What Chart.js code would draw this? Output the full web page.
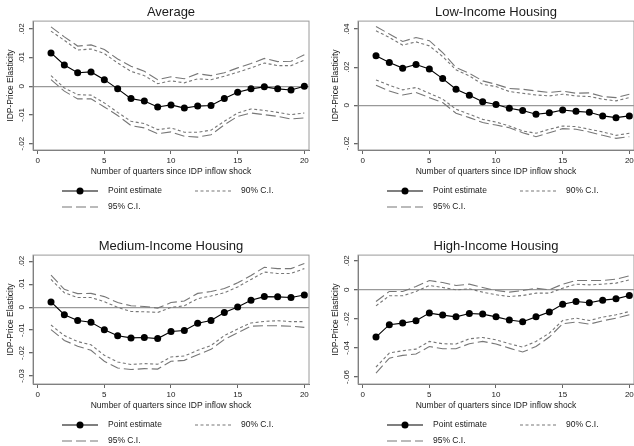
<!DOCTYPE html>
<html lang="en">
<head>
<meta charset="UTF-8">
<title>IDP-Price Elasticity</title>
<script src="https://cdn.jsdelivr.net/npm/chart.js"></script>
<style>
  html, body { margin: 0; padding: 0; background: #fff; }
  body { width: 634px; height: 446px; overflow: hidden; position: relative; }
  .panel { position: absolute; width: 317px; height: 223px; }
</style>
</head>
<body>
<div class="panel" style="left:0;top:0"><canvas id="avgChart"></canvas></div>
<div class="panel" style="left:325px;top:0"><canvas id="lowChart"></canvas></div>
<div class="panel" style="left:0;top:234px"><canvas id="medChart"></canvas></div>
<div class="panel" style="left:325px;top:234px"><canvas id="highChart"></canvas></div>

<script>
// quarters since shock
const quarters = [1, 2, 3, 4, 5, 6, 7, 8, 9, 10, 11, 12, 13, 14, 15, 16, 17, 18, 19, 20];
const xTicks = [0, 5, 10, 15, 20];

// Average
const avgPoint = [0.0116, 0.0074, 0.0047, 0.0050, 0.0023, -0.0009, -0.0043, -0.0051, -0.0072, -0.0065, -0.0076, -0.0069, -0.0067, -0.0043, -0.0021, -0.0009, -0.0002, -0.0009, -0.0013, 0.0000];
const avgUp95 = [0.0207, 0.0172, 0.0140, 0.0144, 0.0128, 0.0095, 0.0070, 0.0052, 0.0023, 0.0033, 0.0026, 0.0044, 0.0037, 0.0047, 0.0064, 0.0079, 0.0097, 0.0086, 0.0087, 0.0110];
const avgUp90 = [0.0192, 0.0160, 0.0126, 0.0130, 0.0114, 0.0081, 0.0052, 0.0037, 0.0009, 0.0019, 0.0012, 0.0026, 0.0023, 0.0035, 0.0049, 0.0064, 0.0081, 0.0072, 0.0072, 0.0091];
const avgLo90 = [0.0037, -0.0006, -0.0029, -0.0031, -0.0058, -0.0091, -0.0122, -0.0130, -0.0151, -0.0145, -0.0160, -0.0160, -0.0153, -0.0122, -0.0093, -0.0079, -0.0084, -0.0091, -0.0099, -0.0093];
const avgLo95 = [0.0023, -0.0017, -0.0044, -0.0044, -0.0072, -0.0102, -0.0137, -0.0145, -0.0165, -0.0159, -0.0174, -0.0177, -0.0169, -0.0134, -0.0105, -0.0093, -0.0099, -0.0105, -0.0114, -0.0110];
const avgYTicks = [-0.02, -0.01, 0, 0.01, 0.02];

// Low-income housing
const lowPoint = [0.0260, 0.0225, 0.0195, 0.0214, 0.0190, 0.0140, 0.0084, 0.0053, 0.0018, 0.0004, -0.0016, -0.0028, -0.0047, -0.0040, -0.0025, -0.0032, -0.0037, -0.0056, -0.0065, -0.0056];
const lowUp95 = [0.0414, 0.0374, 0.0335, 0.0356, 0.0339, 0.0277, 0.0198, 0.0168, 0.0128, 0.0110, 0.0088, 0.0084, 0.0075, 0.0067, 0.0074, 0.0063, 0.0065, 0.0046, 0.0040, 0.0058];
const lowUp90 = [0.0391, 0.0356, 0.0316, 0.0333, 0.0312, 0.0256, 0.0186, 0.0154, 0.0110, 0.0098, 0.0072, 0.0063, 0.0054, 0.0049, 0.0058, 0.0049, 0.0046, 0.0032, 0.0023, 0.0040];
const lowLo90 = [0.0133, 0.0105, 0.0081, 0.0093, 0.0063, 0.0032, -0.0021, -0.0047, -0.0074, -0.0088, -0.0109, -0.0135, -0.0147, -0.0126, -0.0109, -0.0112, -0.0126, -0.0140, -0.0158, -0.0147];
const lowLo95 = [0.0105, 0.0075, 0.0054, 0.0067, 0.0040, 0.0014, -0.0042, -0.0065, -0.0091, -0.0104, -0.0118, -0.0144, -0.0165, -0.0144, -0.0123, -0.0126, -0.0140, -0.0158, -0.0174, -0.0165];
const lowYTicks = [-0.02, 0, 0.02, 0.04];

// Medium-income housing
const medPoint = [0.0023, -0.0033, -0.0058, -0.0066, -0.0099, -0.0125, -0.0134, -0.0132, -0.0137, -0.0106, -0.0102, -0.0070, -0.0058, -0.0023, 0.0001, 0.0030, 0.0046, 0.0045, 0.0042, 0.0053];
const medUp95 = [0.0140, 0.0078, 0.0059, 0.0060, 0.0046, 0.0020, 0.0006, 0.0003, -0.0004, 0.0020, 0.0027, 0.0060, 0.0068, 0.0081, 0.0106, 0.0138, 0.0174, 0.0168, 0.0168, 0.0190];
const medUp90 = [0.0121, 0.0063, 0.0042, 0.0042, 0.0024, -0.0001, -0.0019, -0.0020, -0.0023, -0.0001, 0.0006, 0.0037, 0.0049, 0.0063, 0.0088, 0.0121, 0.0153, 0.0147, 0.0147, 0.0168];
const medLo90 = [-0.0078, -0.0124, -0.0150, -0.0164, -0.0210, -0.0239, -0.0250, -0.0246, -0.0249, -0.0217, -0.0213, -0.0188, -0.0167, -0.0124, -0.0095, -0.0069, -0.0062, -0.0059, -0.0063, -0.0063];
const medLo95 = [-0.0098, -0.0145, -0.0170, -0.0188, -0.0236, -0.0265, -0.0272, -0.0268, -0.0270, -0.0236, -0.0232, -0.0207, -0.0184, -0.0141, -0.0112, -0.0083, -0.0081, -0.0081, -0.0083, -0.0088];
const medYTicks = [-0.03, -0.02, -0.01, 0, 0.01, 0.02];

// High-income housing
const highPoint = [-0.0325, -0.0240, -0.0229, -0.0213, -0.0160, -0.0174, -0.0186, -0.0163, -0.0167, -0.0186, -0.0208, -0.0220, -0.0186, -0.0153, -0.0099, -0.0080, -0.0089, -0.0071, -0.0062, -0.0039];
const highUp95 = [-0.0080, -0.0011, -0.0011, 0.0023, 0.0064, 0.0050, 0.0030, 0.0039, 0.0016, -0.0005, -0.0016, -0.0005, 0.0011, 0.0000, 0.0039, 0.0064, 0.0064, 0.0064, 0.0073, 0.0096];
const highUp90 = [-0.0110, -0.0041, -0.0041, -0.0011, 0.0030, 0.0016, 0.0000, 0.0007, -0.0016, -0.0034, -0.0046, -0.0039, -0.0023, -0.0023, 0.0011, 0.0039, 0.0034, 0.0039, 0.0046, 0.0069];
const highLo90 = [-0.0531, -0.0435, -0.0419, -0.0408, -0.0355, -0.0371, -0.0373, -0.0337, -0.0328, -0.0344, -0.0371, -0.0394, -0.0355, -0.0298, -0.0211, -0.0195, -0.0211, -0.0188, -0.0172, -0.0149];
const highLo95 = [-0.0573, -0.0470, -0.0451, -0.0442, -0.0390, -0.0405, -0.0405, -0.0371, -0.0355, -0.0373, -0.0401, -0.0428, -0.0390, -0.0325, -0.0234, -0.0222, -0.0236, -0.0213, -0.0195, -0.0172];
const highYTicks = [-0.06, -0.04, -0.02, 0, 0.02];

const textColor = '#1a1a1a';
const axisColor = '#666';
const frameColor = '#9a9a9a';
const ciColor = '#777';
const zeroColor = '#999';
const dash90 = [3, 2.5];
const dash95 = [10, 4];

Chart.defaults.font.family = '"Liberation Sans", Arial, Helvetica, sans-serif';
Chart.defaults.color = textColor;

function fmtTick(v) {
    if (Math.abs(v) < 1e-9) return '0';
    return v.toFixed(2).replace('0.', '.');
}

// box round the plot region
const framePlugin = {
    id: 'frame',
    beforeDatasetsDraw(chart) {
        const { ctx, chartArea: a } = chart;
        ctx.save();
        ctx.strokeStyle = frameColor;
        ctx.lineWidth = 1;
        ctx.strokeRect(a.left, a.top, a.right - a.left, a.bottom - a.top);
        ctx.restore();
    }
};

// Stata-like legend under the x-axis title
const legendItems = [
    { label: 'Point estimate', col: 0, row: 0, dash: [], color: '#000', dot: true },
    { label: '90% C.I.', col: 1, row: 0, dash: dash90, color: ciColor },
    { label: '95% C.I.', col: 0, row: 1, dash: dash95, color: ciColor }
];
const stataLegend = {
    id: 'stataLegend',
    afterDraw(chart) {
        const ctx = chart.ctx;
        const colX = [62, 195];
        const rowY = [191, 207];
        ctx.save();
        ctx.font = '8.5px "Liberation Sans", Arial, sans-serif';
        ctx.textBaseline = 'middle';
        legendItems.forEach(it => {
            const x = colX[it.col], y = rowY[it.row];
            ctx.strokeStyle = it.color;
            ctx.lineWidth = 1.1;
            ctx.setLineDash(it.dash);
            ctx.beginPath();
            ctx.moveTo(x, y);
            ctx.lineTo(x + 36, y);
            ctx.stroke();
            ctx.setLineDash([]);
            if (it.dot) {
                ctx.fillStyle = '#000';
                ctx.beginPath();
                ctx.arc(x + 18, y, 3.5, 0, Math.PI * 2);
                ctx.fill();
            }
            ctx.fillStyle = textColor;
            ctx.fillText(it.label, x + 46, y);
        });
        ctx.restore();
    }
};

function series(vals) {
    return quarters.map((q, i) => ({ x: q, y: vals[i] }));
}

function makeChart(id, title, pt, up95, up90, lo90, lo95, yMin, yMax, yTicks) {
    const ciLine = (vals, dash) => ({
        data: series(vals),
        borderColor: ciColor,
        borderWidth: 1.1,
        borderDash: dash,
        pointRadius: 0,
        fill: false
    });
    new Chart(document.getElementById(id), {
        type: 'line',
        data: {
            datasets: [
                {
                    data: series(pt),
                    borderColor: '#000',
                    borderWidth: 1.1,
                    pointRadius: 3.5,
                    pointBackgroundColor: '#000',
                    pointBorderWidth: 0,
                    fill: false
                },
                ciLine(up90, dash90),
                ciLine(lo90, dash90),
                ciLine(up95, dash95),
                ciLine(lo95, dash95)
            ]
        },
        options: {
            responsive: true,
            maintainAspectRatio: false,
            animation: false,
            layout: { padding: { left: 0, right: 8, top: 0, bottom: 43 } },
            plugins: {
                legend: { display: false },
                tooltip: { enabled: false },
                title: {
                    display: true,
                    text: title,
                    fullSize: false,
                    color: textColor,
                    font: { size: 13, weight: 'normal' },
                    padding: { top: 5, bottom: 0.5 }
                }
            },
            scales: {
                x: {
                    type: 'linear',
                    min: -0.35,
                    max: 20.35,
                    afterBuildTicks: s => { s.ticks = xTicks.map(v => ({ value: v })); },
                    afterFit: s => { s.height = 30; },
                    grid: { drawOnChartArea: false, tickColor: axisColor, tickLength: 4 },
                    border: { display: true, color: axisColor, width: 1 },
                    ticks: { font: { size: 8 }, color: textColor, padding: 2, maxRotation: 0, autoSkip: false },
                    title: {
                        display: true,
                        text: 'Number of quarters since IDP inflow shock',
                        color: textColor,
                        font: { size: 8.5 },
                        padding: { top: 0, bottom: 3 }
                    }
                },
                y: {
                    type: 'linear',
                    min: yMin,
                    max: yMax,
                    afterBuildTicks: s => { s.ticks = yTicks.map(v => ({ value: v })); },
                    afterFit: s => { s.width = 33; },
                    grid: {
                        color: c => (c.tick && Math.abs(c.tick.value) < 1e-9) ? zeroColor : 'rgba(0,0,0,0)',
                        lineWidth: 1.3,
                        tickColor: axisColor,
                        tickLength: 4
                    },
                    border: { display: true, color: axisColor, width: 1 },
                    ticks: {
                        font: { size: 8 },
                        color: textColor,
                        padding: 0,
                        minRotation: 90,
                        maxRotation: 90,
                        crossAlign: 'center',
                        autoSkip: false,
                        callback: v => fmtTick(v)
                    },
                    title: {
                        display: true,
                        text: 'IDP-Price Elasticity',
                        color: textColor,
                        font: { size: 8.5 },
                        padding: { top: 5.5, bottom: 0 }
                    }
                }
            }
        },
        plugins: [framePlugin, stataLegend]
    });
}

makeChart('avgChart', 'Average', avgPoint, avgUp95, avgUp90, avgLo90, avgLo95, -0.0222, 0.0227, avgYTicks);
makeChart('lowChart', 'Low-Income Housing', lowPoint, lowUp95, lowUp90, lowLo90, lowLo95, -0.0235, 0.0442, lowYTicks);
makeChart('medChart', 'Medium-Income Housing', medPoint, medUp95, medUp90, medLo90, medLo95, -0.0335, 0.0227, medYTicks);
makeChart('highChart', 'High-Income Housing', highPoint, highUp95, highUp90, highLo90, highLo95, -0.0648, 0.0239, highYTicks);
</script>
</body>
</html>
